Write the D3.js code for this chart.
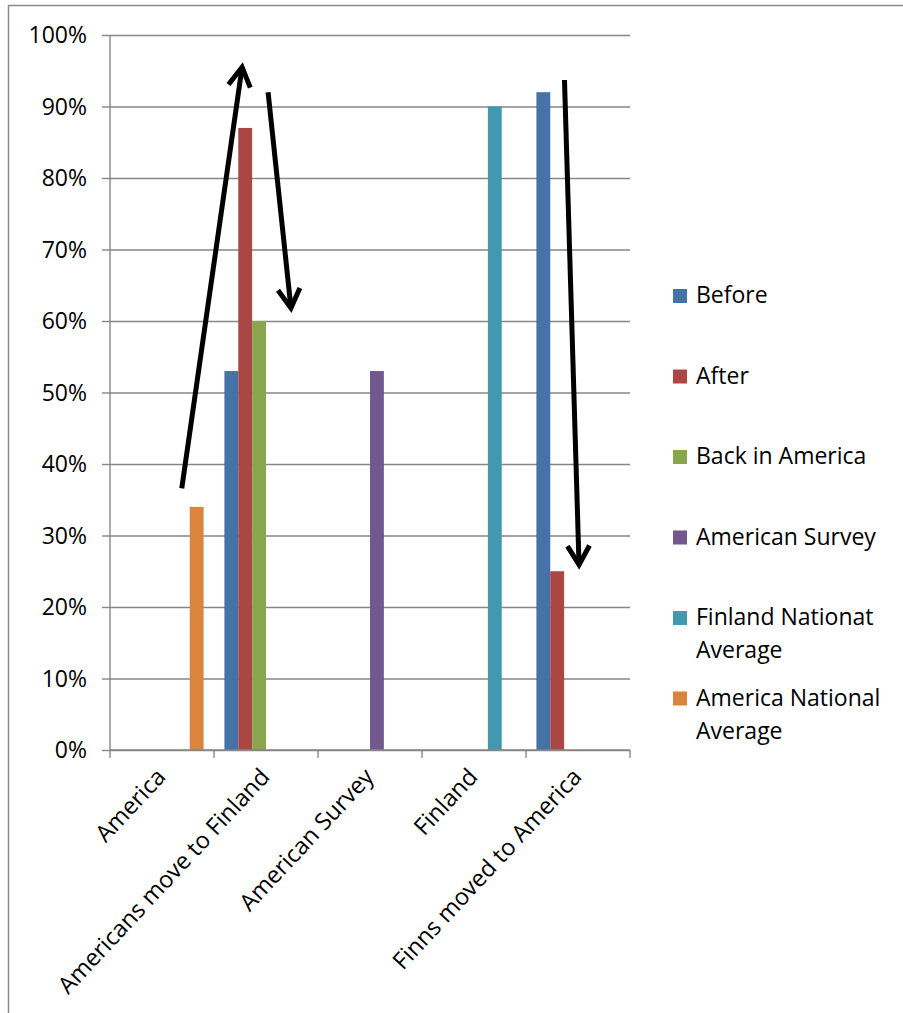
<!DOCTYPE html>
<html>
<head>
<meta charset="utf-8">
<script src="https://cdn.jsdelivr.net/npm/d3@7"></script>
<style>
  html, body { margin: 0; padding: 0; background: #fff; }
  svg { display: block; }
  text { font-family: "Open Sans", "Noto Sans", sans-serif; fill: #000; }
</style>
</head>
<body>
<svg id="chart" width="903" height="1013"></svg>
<script>
// Categories along the x axis
const categories = ["America", "Americans move to Finland", "American Survey", "Finland", "Finns moved to America"];

// Series values per category (null = no bar)
const before          = [null, 0.53, null, null, 0.92];
const after           = [null, 0.87, null, null, 0.25];
const backInAmerica   = [null, 0.60, null, null, null];
const americanSurvey  = [null, null, 0.53, null, null];
const finlandNational = [null, null, null, 0.90, null];
const americaNational = [0.34, null, null, null, null];

// Legend labels (lines split where the legend wraps)
const seriesNames = ["Before", "After", "Back in America", "American Survey", "Finland Nationat Average", "America National Average"];
const legendLines = [["Before"], ["After"], ["Back in America"], ["American Survey"], ["Finland Nationat", "Average"], ["America National", "Average"]];
const seriesColors = ["#4572A7", "#AA4643", "#89A54E", "#71588F", "#4198AF", "#DB843D"];

// Y tick values
const yTicks = [0, 0.1, 0.2, 0.3, 0.4, 0.5, 0.6, 0.7, 0.8, 0.9, 1.0];

// Hand-drawn arrows: [category index, fraction across category, value]
const arrows = [
  { from: [0, 0.69, 0.366], to: [1, 0.27, 0.955] },
  { from: [1, 0.52, 0.920], to: [1, 0.74, 0.618] },
  { from: [4, 0.37, 0.937], to: [4, 0.51, 0.259] }
];

const series = [before, after, backInAmerica, americanSurvey, finlandNational, americaNational];

const svg = d3.select("#chart");
const plot = { left: 110, right: 630, top: 35, bottom: 750 };
const fontSize = 23;
const gridColor = "#868686";

// Outer chart border (top and left edges visible)
svg.append("path")
  .attr("d", "M8.5,1013 L8.5,5.5 L903,5.5")
  .attr("fill", "none").attr("stroke", "#8a8a8a").attr("stroke-width", 1.5);

const x = d3.scaleBand().domain(categories).range([plot.left, plot.right]).paddingInner(0).paddingOuter(0);
const xs = d3.scaleBand().domain(seriesNames).range([0, x.bandwidth()]).paddingInner(0).paddingOuter(0.75);
const y = d3.scaleLinear().domain([0, 1]).range([plot.bottom, plot.top]);

// Gridlines with tick stubs left of the axis
const yAxis = d3.axisLeft(y).tickValues(yTicks).tickFormat(d3.format(".0%"))
  .tickSize(8).tickPadding(15);
const yg = svg.append("g").attr("transform", `translate(${plot.left},0)`).call(yAxis);
yg.select(".domain").remove();
yg.selectAll(".tick line").attr("stroke", gridColor).attr("stroke-width", 1.4);
yg.selectAll(".tick text").attr("font-size", fontSize).attr("font-family", "Open Sans").attr("fill", "#000").attr("dy", "0.34em");
yg.selectAll(".tick").append("line")
  .attr("x1", 0).attr("x2", plot.right - plot.left)
  .attr("stroke", gridColor).attr("stroke-width", 1.4);

// Y axis line
svg.append("line")
  .attr("x1", plot.left).attr("x2", plot.left)
  .attr("y1", plot.top).attr("y2", plot.bottom)
  .attr("stroke", gridColor).attr("stroke-width", 1.4);

// Bars
series.forEach((vals, si) => {
  svg.append("g").selectAll("rect")
    .data(vals.map((v, ci) => ({ v, c: categories[ci] })).filter(d => d.v != null))
    .join("rect")
    .attr("x", d => x(d.c) + xs(seriesNames[si]))
    .attr("width", xs.bandwidth())
    .attr("y", d => y(d.v))
    .attr("height", d => y(0) - y(d.v))
    .attr("fill", seriesColors[si]);
});

// X axis with boundary ticks
svg.append("line")
  .attr("x1", plot.left).attr("x2", plot.right)
  .attr("y1", plot.bottom).attr("y2", plot.bottom)
  .attr("stroke", gridColor).attr("stroke-width", 1.4);
const bounds = categories.map(c => x(c)).concat([plot.right]);
svg.append("g").selectAll("line").data(bounds).join("line")
  .attr("x1", d => d).attr("x2", d => d)
  .attr("y1", plot.bottom).attr("y2", plot.bottom + 8)
  .attr("stroke", gridColor).attr("stroke-width", 1.4);

// Rotated category labels
svg.append("g").selectAll("text").data(categories).join("text")
  .attr("transform", d => `translate(${x(d) + x.bandwidth() / 2 + 5},${plot.bottom + 28}) rotate(-47)`)
  .attr("text-anchor", "end")
  .attr("font-size", 23.5)
  .text(d => d);

// Legend
const legend = svg.append("g");
const legendTop = 303;
const legendStep = 80.5;
legendLines.forEach((lines, i) => {
  const base = legendTop + i * legendStep;
  legend.append("rect")
    .attr("x", 673).attr("y", base - 14).attr("width", 14).attr("height", 14)
    .attr("fill", seriesColors[i]);
  const t = legend.append("text").attr("x", 696).attr("y", base).attr("font-size", fontSize);
  lines.forEach((ln, k) => {
    t.append("tspan").attr("x", 696).attr("dy", k === 0 ? 0 : 33).text(ln);
  });
});

// Arrow annotations
const px = p => x(categories[p[0]]) + p[1] * x.bandwidth();
const arrowG = svg.append("g")
  .attr("fill", "none").attr("stroke", "#000").attr("stroke-width", 5);
arrows.forEach(a => {
  const x1 = px(a.from), y1 = y(a.from[2]);
  const x2 = px(a.to), y2 = y(a.to[2]);
  arrowG.append("line").attr("x1", x1).attr("y1", y1).attr("x2", x2).attr("y2", y2)
    .attr("stroke-linecap", "butt");
  const ang = Math.atan2(y1 - y2, x1 - x2);
  const len = 22, spread = Math.PI / 6;
  const p1 = [x2 + len * Math.cos(ang + spread), y2 + len * Math.sin(ang + spread)];
  const p2 = [x2 + len * Math.cos(ang - spread), y2 + len * Math.sin(ang - spread)];
  arrowG.append("path")
    .attr("d", `M${p1[0]},${p1[1]} L${x2},${y2} L${p2[0]},${p2[1]}`)
    .attr("stroke-linejoin", "miter").attr("stroke-linecap", "butt");
});
</script>
</body>
</html>
